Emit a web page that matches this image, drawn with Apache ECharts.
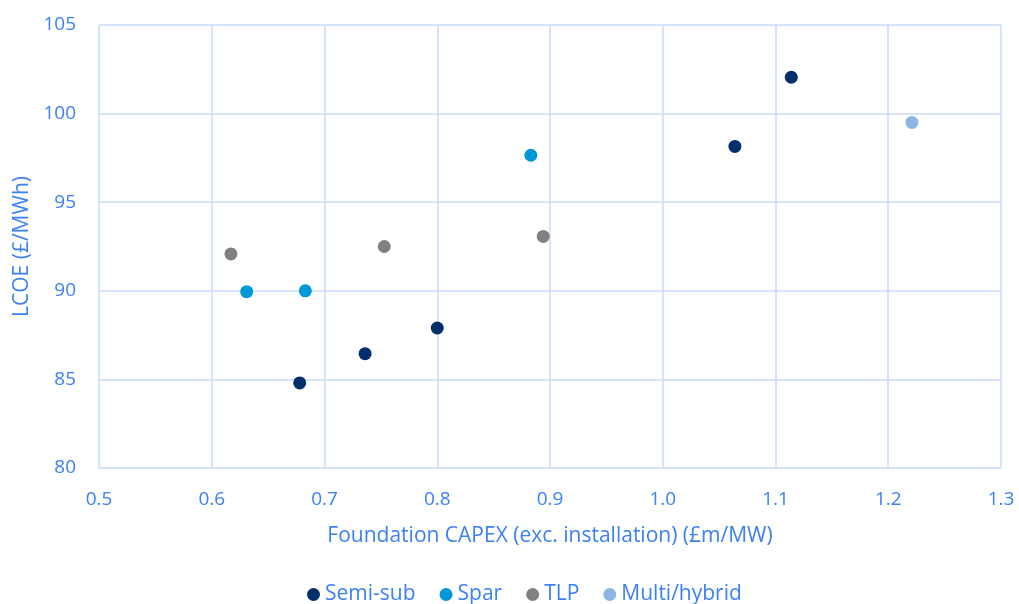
<!DOCTYPE html>
<html>
<head>
<meta charset="utf-8">
<script src="https://cdn.jsdelivr.net/npm/echarts@6/dist/echarts.min.js"></script>
<style>
  html, body { margin: 0; padding: 0; background: #fff; }
  #chart { width: 1019px; height: 604px; }
</style>
</head>
<body>
<div id="chart"></div>
<script>
// Foundation CAPEX (£m/MW) vs LCOE (£/MWh) by floating foundation type
const seriesNames = ['Semi-sub', 'Spar', 'TLP', 'Multi/hybrid'];
const semiSub = [[0.678, 84.8], [0.736, 86.45], [0.800, 87.9], [1.064, 98.15], [1.114, 102.05]];
const spar = [[0.631, 89.95], [0.683, 90.0], [0.883, 97.65]];
const tlp = [[0.617, 92.08], [0.753, 92.5], [0.894, 93.07]];
const multiHybrid = [[1.221, 99.5]];
const xTicks = { min: 0.5, max: 1.3, interval: 0.1 };
const yTicks = { min: 80, max: 105, interval: 5 };

const colors = ['#002f6c', '#0097d7', '#808080', '#8db6e3'];
const textBlue = '#3b80f5';
const gridBlue = '#c9ddfa';
const font = '"Open Sans", sans-serif';
const tickSize = 19;
const nameSize = 21;
const legendSize = 21;

const chart = echarts.init(document.getElementById('chart'));
const dataSets = [semiSub, spar, tlp, multiHybrid];

chart.setOption({
  animation: false,
  color: colors,
  textStyle: { fontFamily: font },
  grid: { left: 99, right: 18, top: 25, bottom: 136 },
  legend: {
    top: 579,
    left: 302,
    icon: 'circle',
    itemWidth: 13,
    itemHeight: 13,
    itemGap: 24,
    textStyle: { color: textBlue, fontSize: legendSize, fontFamily: font },
    data: seriesNames
  },
  xAxis: {
    type: 'value',
    min: xTicks.min,
    max: xTicks.max,
    interval: xTicks.interval,
    name: 'Foundation CAPEX (exc. installation) (£m/MW)',
    nameLocation: 'middle',
    nameGap: 58,
    nameTextStyle: { color: textBlue, fontSize: nameSize, fontFamily: font },
    axisLine: { show: false },
    axisTick: { show: false },
    axisLabel: {
      color: textBlue, fontSize: tickSize, fontFamily: font, margin: 22,
      formatter: v => v.toFixed(1)
    },
    splitLine: { show: true, lineStyle: { color: gridBlue, width: 1.5 } }
  },
  yAxis: {
    type: 'value',
    min: yTicks.min,
    max: yTicks.max,
    interval: yTicks.interval,
    name: 'LCOE (£/MWh)',
    nameLocation: 'middle',
    nameGap: 66,
    nameRotate: 90,
    nameTextStyle: { color: textBlue, fontSize: nameSize, fontFamily: font },
    axisLine: { show: false },
    axisTick: { show: false },
    axisLabel: { color: textBlue, fontSize: tickSize, fontFamily: font, margin: 23 },
    splitLine: { show: true, lineStyle: { color: gridBlue, width: 1.5 } }
  },
  series: dataSets.map((d, i) => ({
    name: seriesNames[i],
    type: 'scatter',
    symbol: 'circle',
    symbolSize: 13,
    data: d,
    itemStyle: { color: colors[i], opacity: 1 }
  }))
});
</script>
</body>
</html>
